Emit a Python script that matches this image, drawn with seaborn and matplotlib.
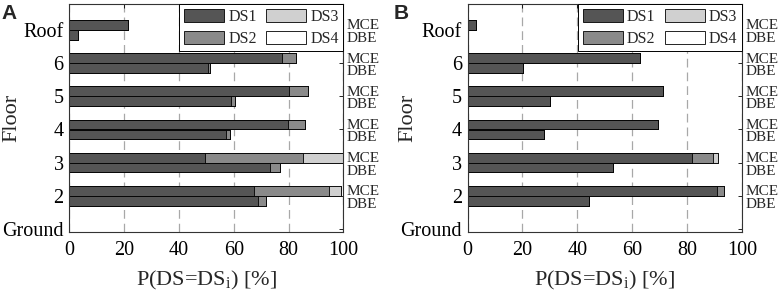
import numpy as np
import pandas as pd
import matplotlib
matplotlib.use("Agg")
import matplotlib.pyplot as plt
import matplotlib.transforms as mtransforms
from matplotlib.patches import Patch
import seaborn as sns


# floor labels, bottom to top (Ground has no bars)
floor_labels = ["Ground", "2", "3", "4", "5", "6", "Roof"]
bar_floors = ["2", "3", "4", "5", "6", "Roof"]

# damage state probabilities [%] per floor (2, 3, 4, 5, 6, Roof)
# panel A
a_mce_ds1 = [67.4, 49.5, 79.6, 80.0, 77.5, 21.5]
a_mce_ds2 = [27.5, 35.9, 6.4, 6.9, 5.1, 0.0]
a_mce_ds3 = [4.1, 14.6, 0.0, 0.0, 0.0, 0.0]
a_mce_ds4 = [0.0, 0.0, 0.0, 0.0, 0.0, 0.0]
a_dbe_ds1 = [68.7, 73.2, 57.0, 59.0, 50.7, 3.3]
a_dbe_ds2 = [3.0, 3.7, 1.5, 1.6, 0.6, 0.0]
a_dbe_ds3 = [0.0, 0.0, 0.0, 0.0, 0.0, 0.0]
a_dbe_ds4 = [0.0, 0.0, 0.0, 0.0, 0.0, 0.0]
# panel B
b_mce_ds1 = [90.9, 82.0, 69.5, 71.4, 63.0, 3.0]
b_mce_ds2 = [2.5, 7.4, 0.0, 0.0, 0.0, 0.0]
b_mce_ds3 = [0.0, 1.9, 0.0, 0.0, 0.0, 0.0]
b_mce_ds4 = [0.0, 0.0, 0.0, 0.0, 0.0, 0.0]
b_dbe_ds1 = [44.4, 52.9, 27.7, 30.0, 20.1, 0.3]
b_dbe_ds2 = [0.0, 0.0, 0.0, 0.0, 0.0, 0.0]
b_dbe_ds3 = [0.0, 0.0, 0.0, 0.0, 0.0, 0.0]
b_dbe_ds4 = [0.0, 0.0, 0.0, 0.0, 0.0, 0.0]

ds_names = ["DS1", "DS2", "DS3", "DS4"]
ds_colors = ["#555555", "#8a8a8a", "#d0d0d0", "#ffffff"]


def BuildFrame(mce, dbe):
    # long table: one row per bar, cumulative stacked values per damage state
    rows = []
    for case, series, offset in (("MCE", mce, 0.15), ("DBE", dbe, -0.15)):
        cum = np.cumsum(np.array(series), axis=0)
        for i, floor in enumerate(bar_floors):
            pos = floor_labels.index(floor) + offset
            row = {"pos": pos, "case": case}
            for j, name in enumerate(ds_names):
                row[name] = cum[j][i]
            rows.append(row)
    return pd.DataFrame(rows)


def DrawPanel(ax, df, letter_x, letter, ylabel_x):
    # draw stacked bars from the outermost cumulative layer inwards
    for name, color in reversed(list(zip(ds_names, ds_colors))):
        sns.barplot(data=df, x=name, y="pos", orient="y", native_scale=True,
                    color=color, saturation=1, edgecolor="black", linewidth=0.6,
                    width=0.97, errorbar=None, ax=ax)

    ax.set_xlim(0, 100)
    ax.set_ylim(-0.08, 6.78)
    ax.set_xticks([0, 20, 40, 60, 80, 100])
    ax.set_yticks(range(len(floor_labels)))
    ax.set_yticklabels(floor_labels)
    ax.set_xlabel(r"P(DS=DS$_{\mathregular{i}}$) [%]", fontsize=16, labelpad=6)
    ax.set_ylabel("Floor", fontsize=16)
    ax.yaxis.set_label_coords(ylabel_x, 0.5)

    ax.set_axisbelow(True)
    ax.grid(axis="x", linestyle=(0, (7, 4)), color="#a8a8a8", linewidth=0.9)
    ax.grid(axis="y", visible=False)
    ax.tick_params(direction="in", length=3, width=0.6, top=True, right=True,
                   labelsize=14.5, colors="black")
    ax.tick_params(axis="x", pad=7)
    ax.tick_params(axis="y", pad=4)
    for spine in ax.spines.values():
        spine.set_color("#333333")
        spine.set_linewidth(0.8)

    trans = mtransforms.blended_transform_factory(ax.transAxes, ax.transData)
    for floor in bar_floors:
        k = floor_labels.index(floor)
        ax.text(1.013, k + 0.015, "MCE", transform=trans, ha="left", va="baseline", fontsize=11)
        ax.text(1.013, k - 0.36, "DBE", transform=trans, ha="left", va="baseline", fontsize=11)

    handles = [Patch(facecolor=c, edgecolor="black", linewidth=0.6) for c in ds_colors]
    leg = ax.legend(handles, ds_names, ncol=2, loc="upper right", borderaxespad=0,
                    fancybox=False, edgecolor="black", framealpha=1, fontsize=11.5,
                    handlelength=2.5, handleheight=0.9, columnspacing=0.6,
                    handletextpad=0.25, borderpad=0.3, labelspacing=0.35)
    leg.get_frame().set_linewidth(0.7)

    ax.figure.text(letter_x, 0.985, letter, fontsize=15, fontweight="bold",
                   family="Liberation Sans", ha="left", va="top")


def main():
    sns.set_style("white")
    plt.rcParams["font.family"] = ["Liberation Serif", "DejaVu Serif"]
    plt.rcParams["mathtext.fontset"] = "custom"
    plt.rcParams["mathtext.rm"] = "Liberation Serif"
    plt.rcParams["mathtext.it"] = "Liberation Serif:italic"

    df_a = BuildFrame([a_mce_ds1, a_mce_ds2, a_mce_ds3, a_mce_ds4],
                      [a_dbe_ds1, a_dbe_ds2, a_dbe_ds3, a_dbe_ds4])
    df_b = BuildFrame([b_mce_ds1, b_mce_ds2, b_mce_ds3, b_mce_ds4],
                      [b_dbe_ds1, b_dbe_ds2, b_dbe_ds3, b_dbe_ds4])

    fig = plt.figure(figsize=(7.82, 2.95), dpi=100)
    ax_a = fig.add_axes([0.0886, 0.2146, 0.3506, 0.7718])
    ax_b = fig.add_axes([0.5980, 0.2146, 0.3506, 0.7718])

    DrawPanel(ax_a, df_a, 0.002, "A", -0.173)
    DrawPanel(ax_b, df_b, 0.503, "B", -0.185)

    fig.savefig("out.png", dpi=100)


if __name__ == "__main__":
    main()
